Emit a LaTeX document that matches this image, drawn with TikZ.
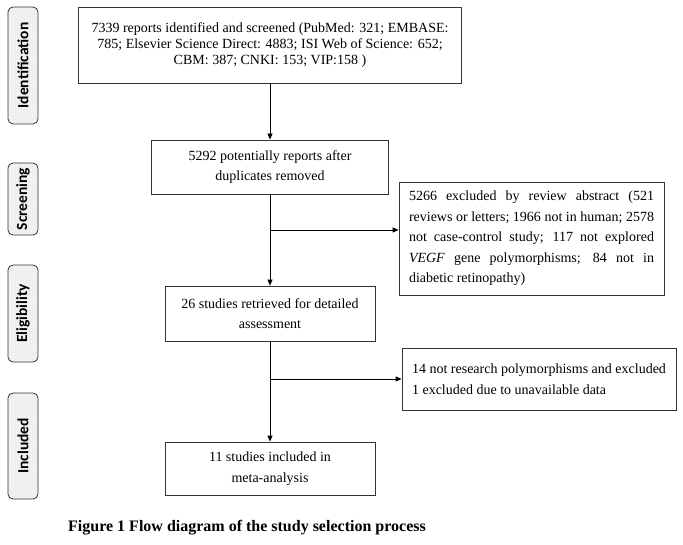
\documentclass[tikz,border=0pt]{standalone}
\usepackage{fontspec}
\setmainfont{Liberation Serif}
\newfontfamily\stagefont{Carlito}
\usetikzlibrary{arrows.meta,patterns}
\tikzset{
  box/.style={draw=black!80, line width=0.8pt, align=center, inner sep=0pt,
    font=\fontsize{14}{20.5}\selectfont},
  stage/.style={draw=black!80, line width=0.8pt, rounded corners=5pt, rotate=90,
    minimum height=30pt, inner sep=0pt, preaction={fill=gray!10},
    pattern=dots, pattern color=gray!30,
    font=\stagefont\bfseries\fontsize{15.5}{17}\selectfont},
  flow/.style={line width=0.8pt, -{Triangle[length=6pt,width=5pt]}},
}
\begin{document}
\begin{tikzpicture}[x=1pt,y=-1pt]
  \useasboundingbox (0,0) rectangle (683,545);

  \foreach \name/\y/\len in {Identification/65.5/117, Screening/199/72,
                             Eligibility/313.5/97, Included/446/106}{
    \node[stage, minimum width=\len pt] (\name) at (23,\y) {\name};
  }

  \node[box, minimum width=383pt, minimum height=76pt,
        font=\fontsize{14}{16}\selectfont] (ident) at (270,45)
    {7339 reports identified and screened (PubMed: 321; EMBASE:\\
     785; Elsevier Science Direct: 4883; ISI Web of Science: 652;\\
     CBM: 387; CNKI: 153; VIP:158 )};
  \node[box, minimum width=237pt, minimum height=54pt] (dedup) at (270,167)
    {5292 potentially reports after\\duplicates removed};
  \node[box, minimum width=265pt, minimum height=113pt, text width=245pt,
        align=justify] (abstract) at (531.5,238.5)
    {5266 excluded by review abstract (521\linebreak
     reviews or letters; 1966 not in human; 2578\linebreak
     not case-control study; 117 not explored\linebreak
     \textit{VEGF} gene polymorphisms; 84 not in\linebreak
     diabetic retinopathy)};
  \node[box, minimum width=210pt, minimum height=55pt] (retrieved) at (270,313.5)
    {26 studies retrieved for detailed\\assessment};
  \node[box, minimum width=274pt, minimum height=62pt, align=left] (excluded) at (539,379)
    {14 not research polymorphisms and excluded\\1 excluded due to unavailable data};
  \node[box, minimum width=210pt, minimum height=53pt] (included) at (270,468.5)
    {11 studies included in\\meta-analysis};

  \coordinate (split1) at (270,230);
  \coordinate (split2) at (270,379);

  \draw[flow] (ident) -- (dedup);
  \draw[flow] (dedup) -- (retrieved);
  \draw[flow] (retrieved) -- (included);
  \draw[flow] (split1) -- (split1 -| abstract.west);
  \draw[flow] (split2) -- (split2 -| excluded.west);

  \node[anchor=west, inner sep=0pt, font=\bfseries\fontsize{16}{18}\selectfont] (caption)
    at (68,528) {Figure 1 Flow diagram of the study selection process};
\end{tikzpicture}
\end{document}
